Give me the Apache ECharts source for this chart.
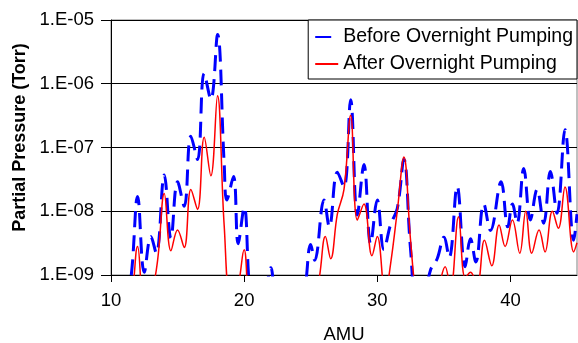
<!DOCTYPE html>
<html>
<head>
<meta charset="utf-8">
<script src="https://cdn.jsdelivr.net/npm/echarts@6/dist/echarts.min.js"></script>
<style>
  html, body { margin: 0; padding: 0; background: #fff; }
  #chart { width: 578px; height: 343px; }
</style>
</head>
<body>
<div id="chart"></div>
<script>
// AMU positions and partial pressures (Torr), peaks and valleys
var beforeAmu = [10, 10.5, 11, 11.5, 12, 12.5, 13, 13.4, 14, 14.5, 15, 15.5, 16, 16.5, 17, 17.5, 18, 18.5, 18.7, 19.2,
  19.55, 20, 20.5, 21, 21.5, 22, 22.5, 23, 23.5, 24, 24.5, 25, 25.3, 26, 26.4, 27, 27.5, 28, 28.5, 29,
  29.5, 30, 30.5, 31, 31.5, 32, 32.5, 33, 33.5, 34, 34.5, 35, 35.4, 36, 36.6, 37, 37.4, 38, 38.5, 39.3,
  39.8, 40.15, 40.5, 41, 41.5, 42, 42.5, 43, 43.5, 44.1, 44.75, 45];
var beforeTorr = [3e-10, 3e-10, 3e-10, 9e-10, 1.7e-8, 1.1e-9, 4e-9, 2.2e-9, 3.7e-8, 3.8e-9, 2.9e-8, 1.2e-8, 1.5e-7, 6.5e-8, 1.45e-6, 5.7e-7, 5.9e-6, 5.6e-8, 1.5e-8, 3.5e-8,
  3.1e-9, 1.15e-8, 4e-10, 3e-10, 4e-10, 1.3e-9, 3e-10, 3e-10, 3e-10, 3e-10, 5e-10, 3e-9, 1.7e-9, 1.5e-8, 5.7e-9, 4.1e-8, 2.4e-8, 5.6e-7, 8.7e-9, 5.4e-8,
  3.1e-9, 1.5e-8, 2.5e-9, 6.2e-9, 1.1e-8, 6.5e-8, 2.5e-9, 3e-10, 4e-10, 1.2e-9, 1.8e-9, 3.9e-9, 1.9e-9, 2.45e-8, 1.35e-9, 3.7e-9, 1.6e-9, 1.3e-8, 5e-9, 2.9e-8,
  5.7e-9, 1.3e-8, 6.5e-9, 4.7e-8, 7.3e-9, 2.2e-8, 6.5e-9, 4.2e-8, 9.3e-9, 1.9e-7, 3.5e-9, 9e-9];

var afterAmu = [10, 10.5, 11, 11.5, 12, 12.5, 13, 13.5, 14, 14.5, 15, 15.5, 16, 16.5, 17, 17.5, 18, 18.5, 19, 19.5,
  20, 20.5, 21, 22, 23, 24, 25, 25.6, 26.1, 26.5, 27, 27.5, 28, 28.5, 29, 29.6, 30, 30.6, 31, 31.5,
  32, 32.5, 33, 33.5, 34, 34.5, 35.1, 35.5, 36.1, 36.6, 37, 37.5, 38.05, 38.6, 39.15, 39.6, 40.15, 40.7, 41.15, 41.6,
  42.15, 42.6, 43.15, 43.6, 44.1, 44.75, 45];
var afterTorr = [3e-10, 3e-10, 3e-10, 4e-10, 2.8e-9, 4e-10, 5e-10, 1.7e-9, 1.9e-8, 2.4e-9, 5.1e-9, 2.7e-9, 2.2e-8, 1.07e-8, 1.45e-7, 3.6e-8, 6.5e-7, 6e-9, 4e-10, 6e-10,
  2.5e-9, 3e-10, 3e-10, 3e-10, 3e-10, 3e-10, 3e-10, 8e-10, 4e-9, 1.8e-9, 9e-9, 2.2e-8, 3.2e-7, 7.3e-9, 1.3e-8, 2e-9, 4e-9, 5e-10, 1.5e-9, 1e-8,
  7.1e-8, 3.5e-9, 4e-10, 3e-10, 3e-10, 5e-10, 1.35e-9, 6e-10, 8.2e-9, 9e-10, 1.1e-9, 7e-10, 3.5e-9, 1.4e-9, 6.1e-9, 2.8e-9, 7.3e-9, 2.2e-9, 1e-8, 2.2e-9,
  5.1e-9, 2.3e-9, 1e-8, 5.4e-9, 2.4e-8, 2.3e-9, 3.2e-9];

var xTicks = [10, 20, 30, 40];
var yTickLabels = ['1.E-09', '1.E-08', '1.E-07', '1.E-06', '1.E-05'];

function pairs(xs, ys) {
    var out = [];
    for (var i = 0; i < xs.length; i++) out.push([xs[i], ys[i]]);
    return out;
}

var chart = echarts.init(document.getElementById('chart'), null, {renderer: 'canvas'});

var font = 'Liberation Sans, Arial, sans-serif';

var option = {
    animation: false,
    textStyle: {fontFamily: font, color: '#000'},
    grid: {
        left: 111, right: 1, top: 20, bottom: 68,
        show: true, borderColor: '#808080', borderWidth: 1,
        containLabel: false, outerBoundsMode: 'none'
    },
    legend: {
        orient: 'vertical',
        right: 1, top: 20,
        padding: [7, 4, 5, 6],
        itemGap: 7,
        itemWidth: 23, itemHeight: 14,
        backgroundColor: '#fff',
        borderColor: '#000', borderWidth: 1, borderRadius: 0,
        // line only, no marker in the key
        itemStyle: {color: 'rgba(0,0,0,0)', borderWidth: 0, borderColor: 'rgba(0,0,0,0)'},
        textStyle: {fontFamily: font, fontSize: 19.5, color: '#000'},
        data: ['Before Overnight Pumping', 'After Overnight Pumping']
    },
    xAxis: {
        type: 'value',
        min: 10, max: 45,
        name: 'AMU', nameLocation: 'middle', nameGap: 50,
        nameTextStyle: {fontFamily: font, fontSize: 18.5, color: '#000'},
        axisLine: {onZero: false, lineStyle: {color: '#000', width: 1}},
        axisTick: {customValues: xTicks, length: 7, lineStyle: {color: '#000'}},
        axisLabel: {customValues: xTicks, margin: 16, fontSize: 18.5, color: '#000', fontFamily: font},
        splitLine: {show: false}
    },
    yAxis: {
        type: 'log', logBase: 10,
        min: 1e-9, max: 1e-5,
        name: 'Partial Pressure (Torr)', nameLocation: 'middle', nameGap: 82, nameRotate: 90,
        nameTextStyle: {fontFamily: font, fontSize: 18, fontWeight: 'bold', color: '#000', padding: [0, 0, 0, 20]},
        axisLine: {show: true, lineStyle: {color: '#000', width: 1}},
        axisTick: {show: true, length: 10, lineStyle: {color: '#000'}},
        axisLabel: {
            margin: 17, fontSize: 18.5, color: '#000', fontFamily: font,
            formatter: function (v) {
                return yTickLabels[Math.round(Math.log10(v)) + 9] || '';
            }
        },
        splitLine: {show: true, lineStyle: {color: '#000', width: 1}}
    },
    series: [
        {
            name: 'Before Overnight Pumping',
            type: 'line',
            data: pairs(beforeAmu, beforeTorr),
            smooth: 0.4,
            symbol: 'none',
            clip: true,
            lineStyle: {color: '#0000FF', width: 3, type: [16, 8]},
            itemStyle: {color: '#0000FF'}
        },
        {
            name: 'After Overnight Pumping',
            type: 'line',
            data: pairs(afterAmu, afterTorr),
            smooth: 0.4,
            symbol: 'none',
            clip: true,
            lineStyle: {color: '#FF0000', width: 1.5},
            itemStyle: {color: '#FF0000'}
        }
    ]
};

chart.setOption(option);
</script>
</body>
</html>
